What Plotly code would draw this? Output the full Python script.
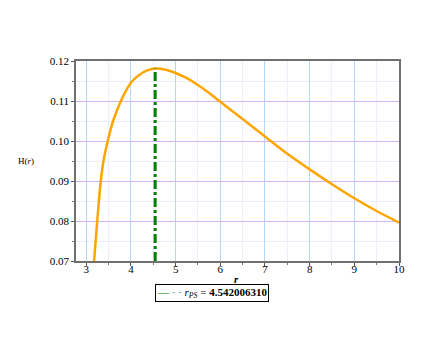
import plotly.graph_objects as go

r_vals = [3.175, 3.210, 3.245, 3.283, 3.325, 3.385, 3.480, 3.600, 3.775, 3.90, 4.03, 4.17, 4.35,
          4.54, 4.75, 5.00, 5.25, 5.50, 5.75, 6.00, 6.50, 7.00, 7.50, 8.00, 8.50, 9.00, 9.50, 10.0]
H_vals = [0.0700, 0.0750, 0.0800, 0.0850, 0.0900, 0.0950, 0.1000, 0.1050, 0.1100,
          0.1128, 0.1150, 0.1164, 0.1176, 0.1181, 0.1179, 0.1170, 0.1157, 0.1140, 0.1120, 0.1098,
          0.1055, 0.1011, 0.0968, 0.0929, 0.0892, 0.0857, 0.0825, 0.0796]
r_ps = 4.542006310
r_ps_label = "4.542006310"
H_peak = 0.1181

x_ticks = [3, 4, 5, 6, 7, 8, 9, 10]
y_ticks = [0.07, 0.08, 0.09, 0.10, 0.11, 0.12]
y_tick_text = ["0.07", "0.08", "0.09", "0.10", "0.11", "0.12"]

font_family = "Liberation Serif, Times New Roman, serif"

fig = go.Figure()
fig.add_trace(go.Scatter(
    x=r_vals, y=H_vals, mode="lines",
    line=dict(color="#FFA500", width=2.5, shape="spline", smoothing=0.8),
    showlegend=False, hoverinfo="skip"))
fig.add_trace(go.Scatter(
    x=[r_ps, r_ps], y=[0.07, H_peak], mode="lines",
    line=dict(color="#008000", width=3, dash="dashdot"),
    showlegend=False))

legend_text = ('<span style="color:#008000"><b>—</b> · ·</span> '
               '<i>r</i><sub><i>PS</i></sub> = <b>' + r_ps_label + '</b>')

fig.update_layout(
    width=436, height=354,
    margin=dict(l=68, r=45, t=53, b=101),
    paper_bgcolor="white", plot_bgcolor="white",
    font=dict(family=font_family, size=11, color="black"),
    showlegend=False,
    xaxis=dict(
        range=[2.77, 10.0],
        tickvals=x_ticks,
        ticks="outside", ticklen=3, tickcolor="#555555",
        ticklabelstandoff=-6,
        showline=True, linecolor="#707070", linewidth=1.5, mirror=True,
        showgrid=True, gridcolor="#b3d7f7", gridwidth=1,
        minor=dict(dtick=0.5, showgrid=True, gridcolor="#eaf1fb", ticks="outside", ticklen=2, tickcolor="#777777"),
        zeroline=False,
        tickfont=dict(family=font_family, size=11),
    ),
    yaxis=dict(
        range=[0.07, 0.12],
        tickvals=y_ticks, ticktext=y_tick_text,
        ticks="outside", ticklen=3, tickcolor="#555555",
        showline=True, linecolor="#707070", linewidth=1.5, mirror=True,
        showgrid=True, gridcolor="#d4b3f5", gridwidth=1,
        minor=dict(dtick=0.005, showgrid=True, gridcolor="#f0ecfb", ticks="outside", ticklen=2, tickcolor="#777777"),
        zeroline=False,
        tickfont=dict(family=font_family, size=11),
    ),
    annotations=[
        dict(text="<b><i>r</i></b>", xref="paper", yref="paper", x=0.4975, y=-0.0915,
             xanchor="center", yanchor="middle", showarrow=False,
             font=dict(family=font_family, size=11)),
        dict(text="H(<i>r</i>)", xref="paper", yref="paper", x=-0.155, y=0.4985,
             xanchor="center", yanchor="middle", showarrow=False,
             font=dict(family=font_family, size=9)),
        dict(text=legend_text, xref="paper", yref="paper", x=0.4226, y=-0.159,
             xanchor="center", yanchor="middle", showarrow=False,
             bordercolor="black", borderwidth=1, borderpad=1,
             font=dict(family=font_family, size=11)),
    ],
)

fig.write_html("out.html")
